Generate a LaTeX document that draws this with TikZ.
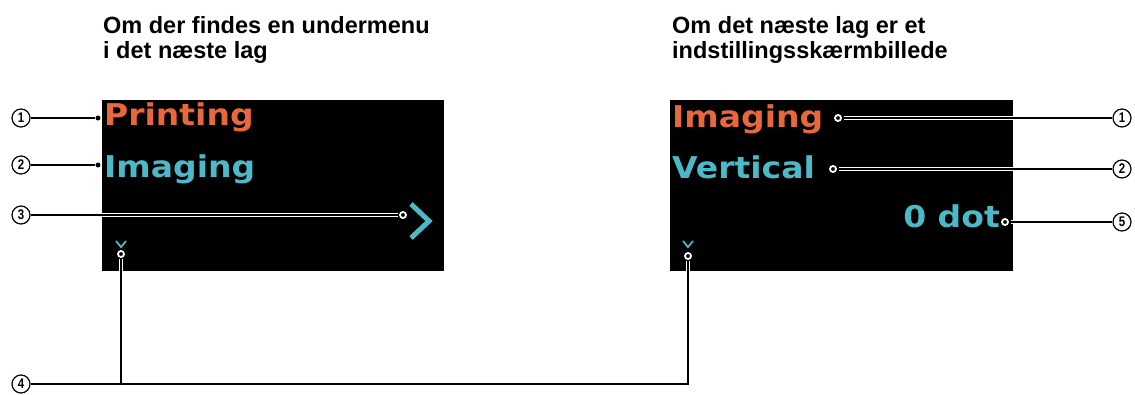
\documentclass[tikz,border=0pt]{standalone}
\usepackage{fontspec}
\setmainfont{Liberation Sans}
\newfontfamily\lcdfont[FakeStretch=1.1]{DejaVu Sans}
\newfontfamily\numfont[FakeStretch=0.82]{Liberation Sans}
\definecolor{lcdorange}{RGB}{232,104,60}
\definecolor{lcdcyan}{RGB}{75,185,200}

\begin{document}
\begin{tikzpicture}[x=1pt, y=-1pt,
    title/.style={anchor=north west, align=left, inner sep=0pt, font=\bfseries\fontsize{23.5}{25.5}\selectfont},
    lcd/.style={anchor=base west, inner sep=0pt, font=\lcdfont\bfseries\fontsize{30}{30}\selectfont},
    num/.style={circle, draw, line width=1.2pt, minimum size=18pt, inner sep=0pt, font=\numfont\bfseries\fontsize{14}{14}\selectfont},
    lead/.style={line width=1.1pt, preaction={draw, white, line width=4pt, shorten <=2pt, shorten >=1pt}},
    tip/.style={circle, fill=black, draw=white, line width=1.8pt, minimum size=6pt, inner sep=0pt},
    dot/.style={circle, fill=black, minimum size=5pt, inner sep=0pt}]
      \useasboundingbox (0,0) rectangle (1135,394);

      \node[title] (head1) at (103,16) {Om der findes en undermenu\\i det næste lag};
      \node[title] (head2) at (672,16) {Om det næste lag er et\\indstillingsskærmbillede};

      \fill[black] (102,100) rectangle (444,271);
      \node[lcd, text=lcdorange] (sub1) at (104,125) {Printing};
      \node[lcd, text=lcdcyan] (sub2) at (104,177) {Imaging};
      \draw[lcdcyan, line width=5pt] (411,204) -- (429,221) -- (411,238);
      \draw[lcdcyan, line width=1.8pt] (116,241) -- (121,247) -- (126,241);

      \fill[black] (670,100) rectangle (1013,271);
      \node[lcd, text=lcdorange] (set1) at (672,127) {Imaging};
      \node[lcd, text=lcdcyan] (set2) at (672,178) {Vertical};
      \node[lcd, text=lcdcyan, anchor=base east] (set3) at (1000,227) {0 dot};
      \draw[lcdcyan, line width=1.8pt] (683,241) -- (688,247) -- (693,241);

      \node[num] (l1) at (21,118) {1};
      \node[num] (l2) at (21,165) {2};
      \node[num] (l3) at (21,215) {3};
      \node[num] (l4) at (21,384) {4};
      \node[num] (r1) at (1122,118) {1};
      \node[num] (r2) at (1122,169) {2};
      \node[num] (r5) at (1122,222) {5};

      \node[dot] (pl1) at (98,118) {};
      \node[dot] (pl2) at (98,165) {};
      \node[tip] (pl3) at (403,215) {};
      \node[tip] (pl4) at (121,254) {};
      \node[tip] (pr4) at (688,256) {};
      \node[tip] (pr1) at (838,118) {};
      \node[tip] (pr2) at (833,169) {};
      \node[tip] (pr5) at (1005,222) {};

      \draw[lead] (l1) -- (pl1);
      \draw[lead] (l2) -- (pl2);
      \draw[lead] (l3) -- (pl3);
      \draw[lead] (pr1) -- (r1);
      \draw[lead] (pr2) -- (r2);
      \draw[lead] (pr5) -- (r5);
      \draw[lead] (l4) -- (l4 -| pr4) -- (pr4);
      \draw[lead] (l4 -| pl4) -- (pl4);
\end{tikzpicture}
\end{document}
